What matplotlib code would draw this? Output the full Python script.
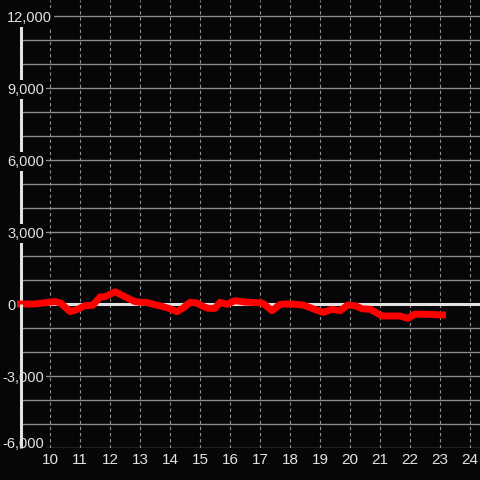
import matplotlib.pyplot as plt
from matplotlib.transforms import blended_transform_factory, offset_copy

plt.rcParams['font.family'] = ['Liberation Sans', 'DejaVu Sans']

# hour of day vs value
hours = [8.9, 9.5, 9.93, 10.17, 10.35, 10.67, 10.9, 11.17, 11.43, 11.67, 11.83,
         12.17, 12.5, 12.83, 13.0, 13.23, 13.5, 13.77, 14.0, 14.23, 14.43, 14.67,
         14.9, 15.1, 15.27, 15.5, 15.67, 15.9, 16.17, 16.5, 16.93, 17.1, 17.4,
         17.67, 17.93, 18.17, 18.43, 18.73, 19.1, 19.4, 19.67, 19.93, 20.2, 20.4,
         20.67, 21.07, 21.67, 21.93, 22.17, 22.57, 23.2]
values = [0, 0, 70, 100, 40, -320, -230, -70, -50, 300, 300,
          510, 300, 100, 70, 60, -30, -110, -200, -320, -170, 70,
          40, -100, -180, -180, 70, -15, 140, 80, 55, 30, -280,
          -15, 0, -10, -40, -180, -350, -220, -280, -40, -80, -200,
          -220, -500, -500, -600, -420, -430, -460]

x_ticks = list(range(10, 25))
y_labels = [12000, 9000, 6000, 3000, 0, -3000, -6000]
y_grid = list(range(-6000, 12001, 1000))

bg = '#060609'
fg = '#e2e2e2'

fig = plt.figure(figsize=(4.8, 4.8), dpi=100, facecolor=bg)
ax = fig.add_axes([21 / 480, 32 / 480, 459 / 480, 448 / 480], facecolor=bg)
ax.set_xlim(9.0333, 24.3333)
ax.set_ylim(-6000, 12667)

for s in ax.spines.values():
    s.set_visible(False)

for y in y_grid:
    ax.axhline(y, color='#8a8a8a', lw=1.0, zorder=1)
for x in x_ticks:
    ax.axvline(x, color='#8f8f8f', lw=0.8, ls=(0, (3, 2.5)), zorder=1)

ax.axhline(0, color=fg, lw=2.2, zorder=2)
# y axis bar: upper part sits under the labels, lower part above them
ax.plot([9.0333, 9.0333], [0, 11667], color=fg, lw=2.2, zorder=2,
        solid_capstyle='butt', clip_on=False)
ax.plot([9.0333, 9.0333], [-6000, 0], color=fg, lw=2.2, zorder=6,
        solid_capstyle='butt', clip_on=False)

ax.plot(hours, values, color='#ff0000', lw=5, zorder=4,
        solid_joinstyle='round', solid_capstyle='butt', clip_on=False)

ax.set_xticks(x_ticks)
ax.set_xticklabels([str(t) for t in x_ticks], color=fg, fontsize=11)
ax.tick_params(axis='x', length=0, pad=3.5)
ax.set_yticks([])

trans = blended_transform_factory(fig.transFigure, ax.transData)
for v in y_labels:
    xpos = (2 if v < 0 else 7) / 480
    tr = offset_copy(trans, fig=fig, y=6 if v == -6000 else 0, units='dots')
    ax.text(xpos, v, f'{v:,}', transform=tr, ha='left', va='center_baseline',
            color=fg, fontsize=10.5, zorder=5, clip_on=False,
            bbox=dict(facecolor=bg, edgecolor='none', pad=1.5))

fig.savefig('out.png', dpi=100, facecolor=bg)
